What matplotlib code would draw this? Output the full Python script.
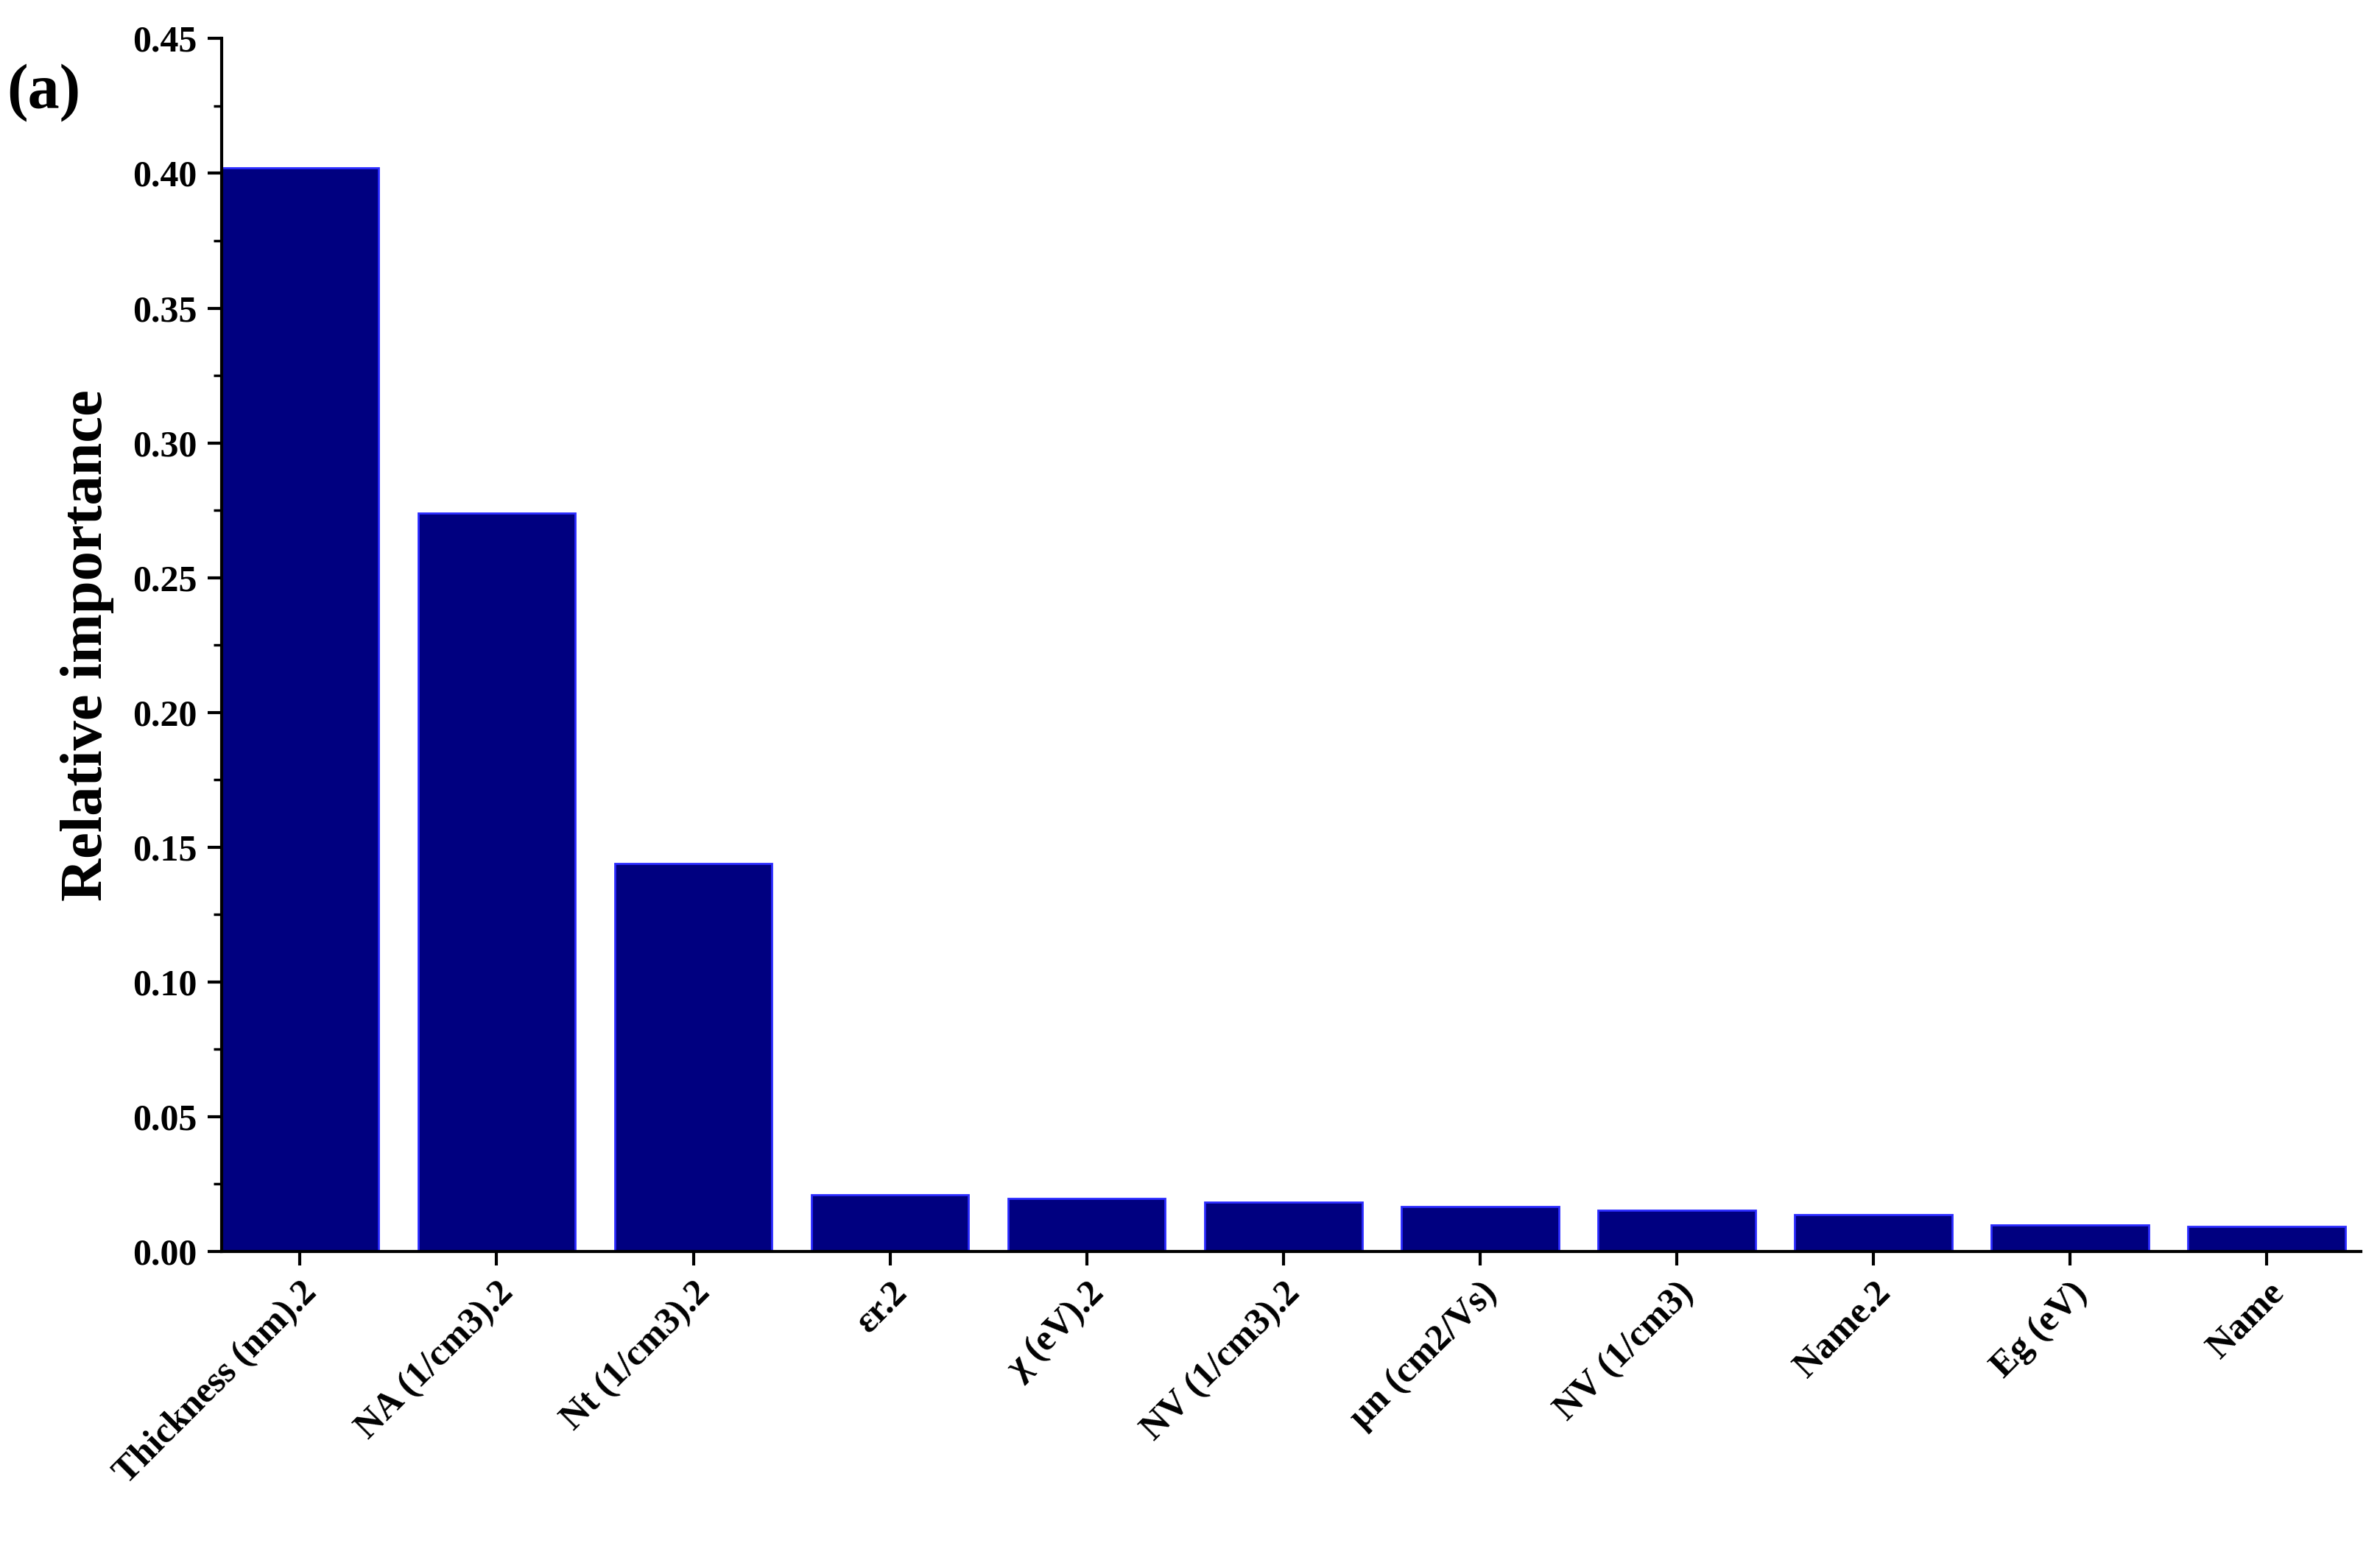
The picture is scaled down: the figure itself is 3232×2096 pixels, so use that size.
import matplotlib.pyplot as plt
from matplotlib.ticker import MultipleLocator

features = ["Thickness (nm).2", "NA (1/cm3).2", "Nt (1/cm3).2", "εr.2", "χ (eV).2",
            "NV (1/cm3).2", "μn (cm2/Vs)", "NV (1/cm3)", "Name.2", "Eg (eV)", "Name"]
importance = [0.402, 0.274, 0.144, 0.021, 0.0195, 0.0183, 0.0167, 0.0152, 0.0137, 0.0098, 0.0092]

plt.rcParams['font.family'] = ['Liberation Serif', 'DejaVu Serif']
plt.rcParams['font.weight'] = 'bold'

fig = plt.figure(figsize=(32.32, 20.96), dpi=100)
ax = fig.add_axes([0.093, 0.189, 0.899, 0.786])

x = range(len(features))
ax.bar(x, importance, width=0.8, color="#000080", edgecolor="#2b2bff", linewidth=2)

ax.set_xlim(-0.4, 10.48)
ax.set_ylim(0, 0.45)
ax.yaxis.set_major_locator(MultipleLocator(0.05))
ax.yaxis.set_minor_locator(MultipleLocator(0.025))
ax.set_xticks(list(x))
ax.set_xticklabels(features, rotation=45, ha="right", rotation_mode="anchor", fontsize=36, fontweight="bold")
ax.set_yticklabels([f"{v:.2f}" for v in ax.get_yticks()], fontsize=36, fontweight="bold")
ax.tick_params(axis="both", which="major", length=14, width=3, direction="out", pad=10)
ax.tick_params(axis="y", which="minor", length=8, width=2.5)
ax.set_ylabel("Relative importance", fontsize=58, fontweight="bold", labelpad=18)

for s in ["top", "right"]:
    ax.spines[s].set_visible(False)
for s in ["left", "bottom"]:
    ax.spines[s].set_linewidth(3)

fig.text(0.003, 0.93, "(a)", fontsize=62, fontweight="bold")

fig.savefig("out.png", dpi=100)
